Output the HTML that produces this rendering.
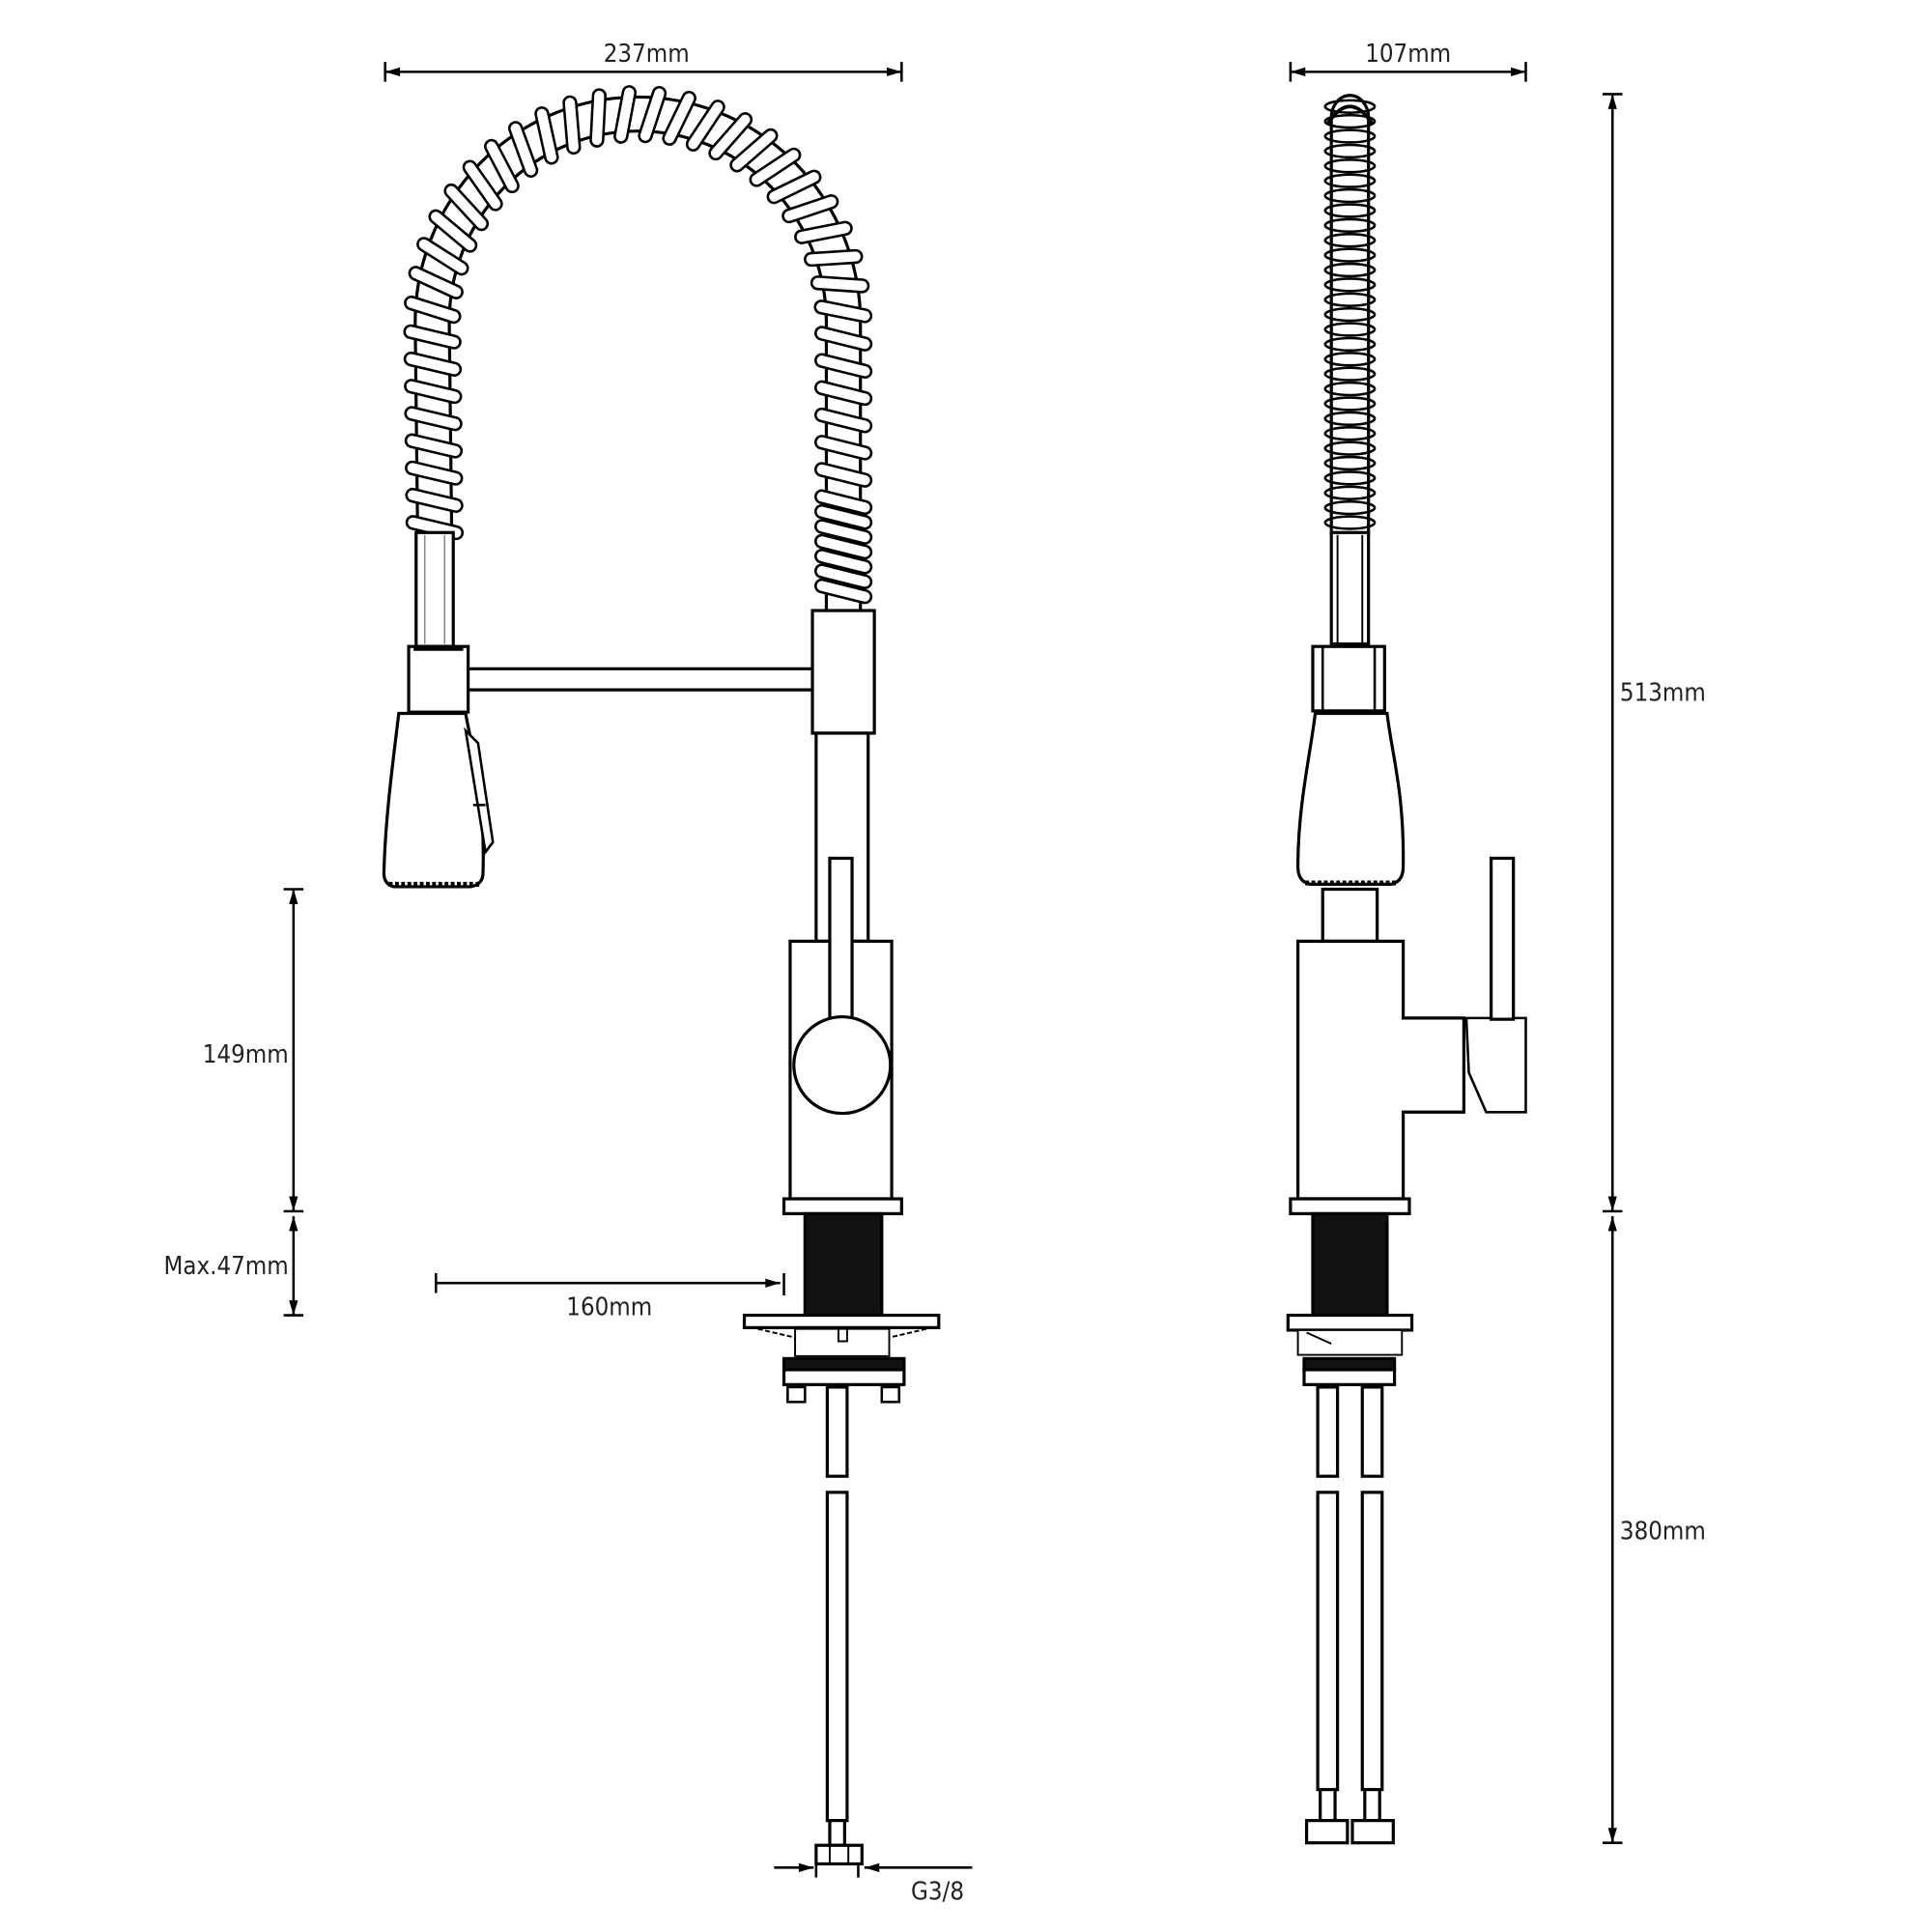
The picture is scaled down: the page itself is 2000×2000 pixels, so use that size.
<!DOCTYPE html>
<html><head><meta charset="utf-8"><style>
html,body{margin:0;padding:0;background:#fff;}
svg{display:block;}
text{font-family:"DejaVu Sans Condensed","Liberation Sans Narrow","Liberation Sans",sans-serif;font-size:20px;fill:#222;}
</style></head><body>
<svg id="s" width="2000" height="2000" viewBox="0 0 1560 1560" xmlns="http://www.w3.org/2000/svg">
<defs>
<marker id="a" viewBox="0 0 10 10" refX="10" refY="5" markerWidth="8" markerHeight="6" orient="auto-start-reverse"><path d="M0,2 L10,5 L0,8 Z" fill="#000"/></marker>
</defs>
<g stroke="#000" stroke-width="2" fill="none">
<line x1="311" y1="58" x2="728" y2="58" marker-start="url(#a)" marker-end="url(#a)"/>
<line x1="311" y1="50" x2="311" y2="66"/><line x1="728" y1="50" x2="728" y2="66"/>
<line x1="1042" y1="58" x2="1232" y2="58" marker-start="url(#a)" marker-end="url(#a)"/>
<line x1="1042" y1="50" x2="1042" y2="66"/><line x1="1232" y1="50" x2="1232" y2="66"/>
<line x1="1302" y1="76" x2="1302" y2="978" marker-start="url(#a)" marker-end="url(#a)"/>
<line x1="1294" y1="76" x2="1310" y2="76"/><line x1="1294" y1="978" x2="1310" y2="978"/>
<line x1="1302" y1="982" x2="1302" y2="1488" marker-start="url(#a)" marker-end="url(#a)"/>
<line x1="1294" y1="1488" x2="1310" y2="1488"/>
<line x1="237" y1="718" x2="237" y2="978" marker-start="url(#a)" marker-end="url(#a)"/>
<line x1="229" y1="718" x2="245" y2="718"/><line x1="229" y1="978" x2="245" y2="978"/>
<line x1="237" y1="982" x2="237" y2="1062" marker-start="url(#a)" marker-end="url(#a)"/>
<line x1="229" y1="1062" x2="245" y2="1062"/>
<line x1="352" y1="1036" x2="630" y2="1036" marker-end="url(#a)"/>
<line x1="352" y1="1028" x2="352" y2="1044"/><line x1="633" y1="1028" x2="633" y2="1046"/>
<line x1="625" y1="1508" x2="657" y2="1508" marker-end="url(#a)"/>
<line x1="785" y1="1508" x2="698" y2="1508" marker-end="url(#a)"/>
<line x1="659" y1="1500" x2="659" y2="1516"/><line x1="693" y1="1500" x2="693" y2="1516"/>
</g>
<text x="522" y="50" text-anchor="middle">237mm</text>
<text x="1137" y="50" text-anchor="middle">107mm</text>
<text x="1308" y="566">513mm</text>
<text x="1308" y="1243">380mm</text>
<text x="233" y="858" text-anchor="end">149mm</text>
<text x="233" y="1029" text-anchor="end">Max.47mm</text>
<text x="492" y="1062" text-anchor="middle">160mm</text>
<text x="757" y="1534" text-anchor="middle">G3/8</text>

<g id="hose"></g>

<g stroke="#000" stroke-width="2.5" fill="#fff">
<rect x="336" y="430" width="30" height="92"/>
<line x1="343" y1="432" x2="343" y2="520" stroke-width="1.2" stroke="#888"/>
<line x1="359" y1="432" x2="359" y2="520" stroke-width="1.2" stroke="#888"/>
<rect x="330" y="522" width="48" height="53"/>
<line x1="334" y1="524" x2="374" y2="524" stroke-width="3"/>
<path d="M378,540 L656,540 M378,557 L656,557"/>
<path d="M322,576 L376,576 C380,600 392,640 390,705 Q390,714 380,716 L318,716 Q310,714 310,705 C311,660 318,610 322,576 Z"/>
<path d="M376,590 L386,600 L398,680 L392,688 Z" stroke-width="2"/>
<line x1="382" y1="650" x2="392" y2="650" stroke-width="2"/>
<path d="M314,714 L388,714" stroke-width="4" stroke-dasharray="3 2"/>
<rect x="656" y="493" width="50" height="99"/>
<rect x="659" y="592" width="42" height="168"/>
<rect x="638" y="760" width="82" height="208"/>
<rect x="670" y="693" width="18" height="130"/>
<circle cx="680" cy="860" r="39"/>
<rect x="633" y="968" width="95" height="12"/>
<rect x="650" y="980" width="62" height="82" fill="#111"/>
<rect x="601" y="1062" width="157" height="10"/>
<path d="M612,1073 L642,1080 L642,1095 M748,1073 L718,1080 L718,1095" stroke-width="1.5" stroke-dasharray="4 2"/>
<rect x="642" y="1073" width="76" height="22" stroke-width="1.5"/>
<rect x="677" y="1073" width="7" height="10" stroke-width="1.5"/>
<rect x="633" y="1097" width="97" height="9" fill="#111"/>
<rect x="633" y="1106" width="97" height="12"/>
<rect x="636" y="1120" width="14" height="12" stroke-width="2"/>
<rect x="712" y="1120" width="14" height="12" stroke-width="2"/>
<rect x="668" y="1120" width="16" height="72"/>
<rect x="668" y="1205" width="16" height="265"/>
<rect x="670" y="1470" width="12" height="20"/>
<rect x="659" y="1490" width="37" height="15"/>
<line x1="670" y1="1490" x2="670" y2="1505" stroke-width="1.5"/><line x1="685" y1="1490" x2="685" y2="1505" stroke-width="1.5"/>

<rect x="1075" y="430" width="30" height="90"/>
<line x1="1080" y1="432" x2="1080" y2="520" stroke-width="1.5"/><line x1="1100" y1="432" x2="1100" y2="520" stroke-width="1.5"/>
<rect x="1060" y="522" width="58" height="52"/>
<line x1="1068" y1="522" x2="1068" y2="574" stroke-width="2"/><line x1="1110" y1="522" x2="1110" y2="574" stroke-width="2"/>
<path d="M1062,576 L1120,576 C1124,610 1134,640 1133,700 Q1133,712 1123,714 L1058,714 Q1048,712 1048,700 C1048,650 1058,610 1062,576 Z"/>
<path d="M1054,713 L1128,713" stroke-width="4" stroke-dasharray="3 2"/>
<rect x="1068" y="718" width="44" height="42"/>
<path d="M1048,760 L1133,760 L1133,822 L1182,822 L1182,898 L1133,898 L1133,968 L1048,968 Z"/>
<path d="M1184,822 L1232,822 L1232,898 L1200,898 L1186,866 Z" stroke-width="2"/>
<rect x="1204" y="693" width="18" height="130"/>
<rect x="1042" y="968" width="96" height="12"/>
<rect x="1060" y="980" width="60" height="82" fill="#111"/>
<rect x="1040" y="1062" width="100" height="12"/>
<rect x="1048" y="1074" width="84" height="20" stroke-width="1.5"/>
<path d="M1055,1076 L1075,1085" stroke-width="1.5"/>
<rect x="1053" y="1097" width="73" height="9" fill="#111"/>
<rect x="1053" y="1106" width="73" height="12"/>
<rect x="1064" y="1120" width="16" height="72"/>
<rect x="1100" y="1120" width="16" height="72"/>
<rect x="1064" y="1205" width="16" height="240"/>
<rect x="1100" y="1205" width="16" height="240"/>
<rect x="1066" y="1445" width="12" height="25"/>
<rect x="1102" y="1445" width="12" height="25"/>
<rect x="1055" y="1470" width="33" height="18"/>
<rect x="1092" y="1470" width="33" height="18"/>
</g>
</svg>
<script>
(function(){
var g=document.getElementById('hose');var NS='http://www.w3.org/2000/svg';
function el(n,a){var e=document.createElementNS(NS,n);for(var k in a)e.setAttribute(k,a[k]);g.appendChild(e);return e;}
var d="M351,432 L349,260 A166,168 0 0 1 681,260 L681,493";
el('path',{d:d,stroke:'#000','stroke-width':30,fill:'none'});
el('path',{d:d,stroke:'#fff','stroke-width':25,fill:'none'});
var p=el('path',{d:d,stroke:'none',fill:'none'});
var L=p.getTotalLength();
for(var s=6;s<L-4;){
 var a=p.getPointAtLength(s),b=p.getPointAtLength(Math.min(s+1,L));
 var ang=Math.atan2(b.y-a.y,b.x-a.x)*180/Math.PI;
 el('rect',{x:-5,y:-23,width:10,height:46,rx:5,ry:5,fill:'#fff',stroke:'#000','stroke-width':2,
  transform:'translate('+a.x+','+a.y+') rotate('+(ang+14)+')'});
 var step=(s>L-90)?12:22;
 s+=step;
}
el('path',{d:"M1075,432 L1075,95 A15,18 0 0 1 1105,95 L1105,432",stroke:'#000','stroke-width':2.5,fill:'#fff'});
for(var y=86;y<430;y+=12){
 el('ellipse',{cx:1090,cy:y,rx:20,ry:5,fill:'none',stroke:'#000','stroke-width':2});
}
el('path',{d:"M1072,100 Q1090,72 1108,100",fill:'none',stroke:'#000','stroke-width':3});
})();
</script>
</body></html>
